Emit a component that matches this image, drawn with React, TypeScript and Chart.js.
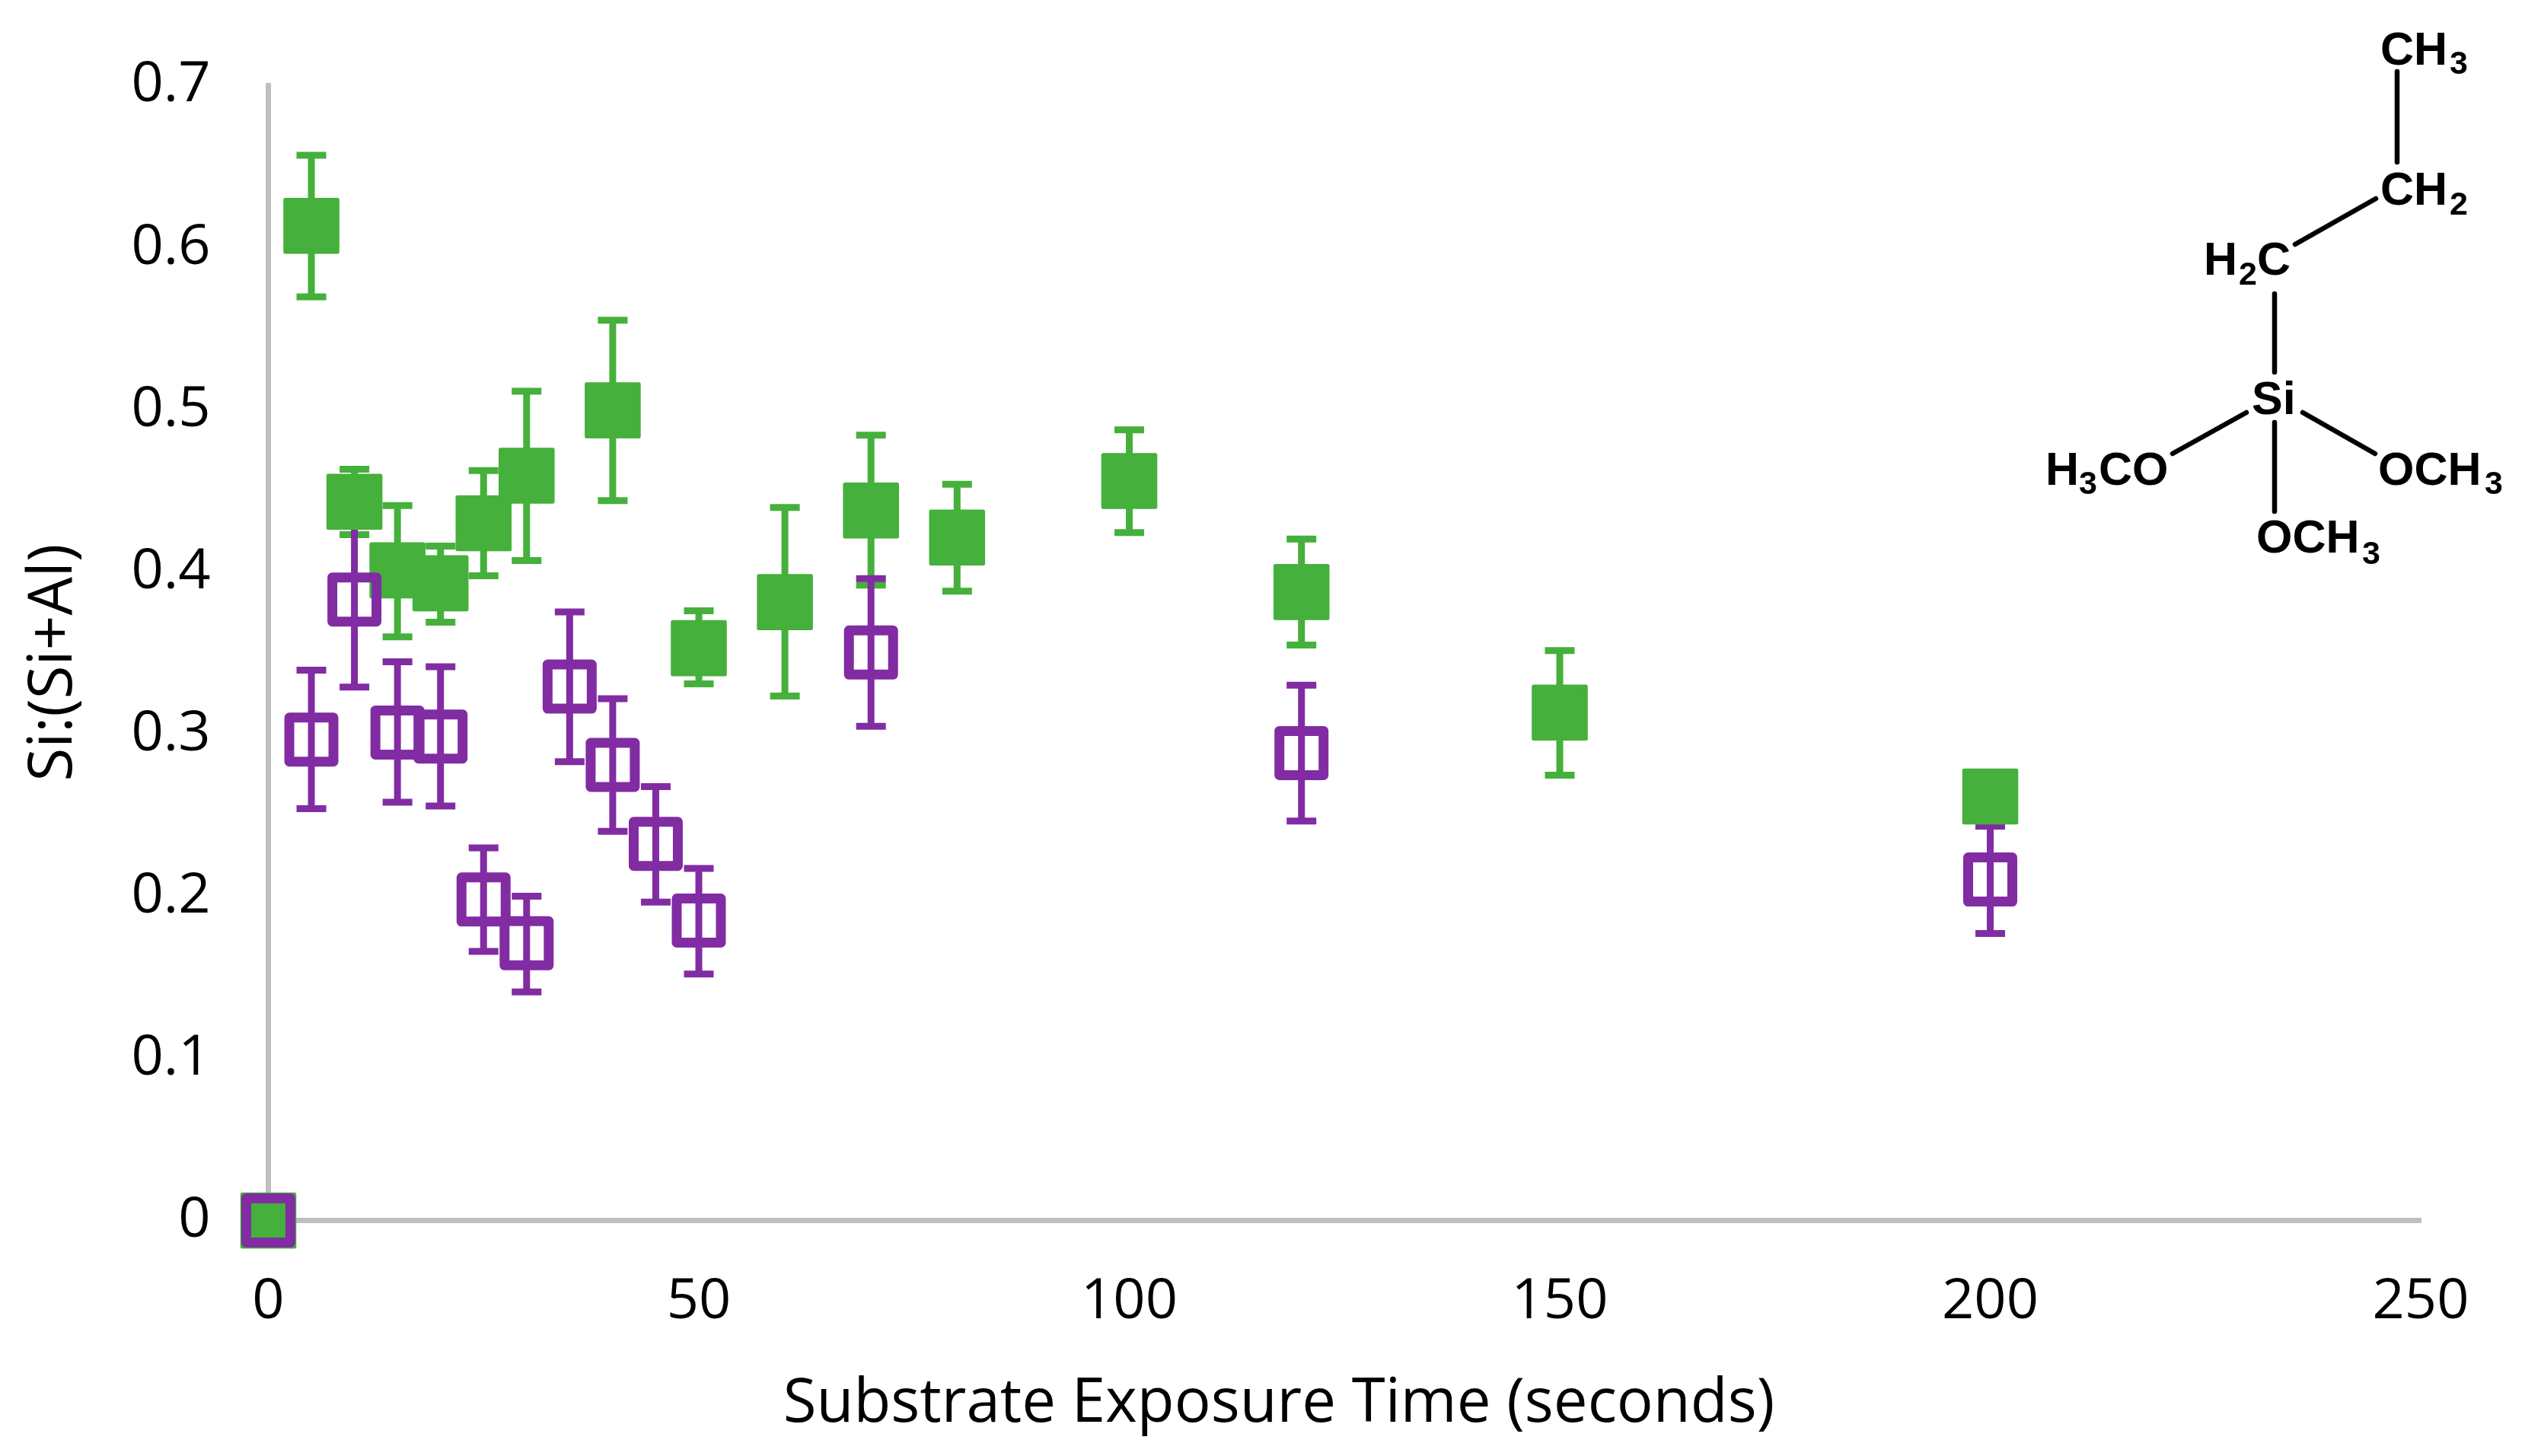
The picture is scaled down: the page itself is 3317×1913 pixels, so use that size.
import React, { useEffect, useRef } from "react";
import { Chart, registerables } from "chart.js";

Chart.register(...registerables);

const xTitle = "Substrate Exposure Time (seconds)";
const yTitle = "Si:(Si+Al)";
const xTickLabels = ["0", "50", "100", "150", "200", "250"];
const yTickLabels = ["0", "0.1", "0.2", "0.3", "0.4", "0.5", "0.6", "0.7"];

const greenTimes = [0, 5, 10, 15, 20, 25, 30, 40, 50, 60, 70, 80, 100, 120, 150, 200];
const greenRatio = [0, 0.6135, 0.4433, 0.401, 0.393, 0.43, 0.4594, 0.4997, 0.353, 0.3814, 0.4379, 0.4212, 0.4561, 0.3876, 0.3133, 0.2615];
const greenUpper = [0, 0.657, 0.4634, 0.441, 0.416, 0.4626, 0.5115, 0.5553, 0.376, 0.4398, 0.4844, 0.4541, 0.4877, 0.4203, 0.3515, 0.273];
const greenLower = [0, 0.5697, 0.423, 0.36, 0.369, 0.3976, 0.407, 0.444, 0.331, 0.3235, 0.3919, 0.3881, 0.4243, 0.3549, 0.2747, 0.25];

const purpleTimes = [0, 5, 10, 15, 20, 25, 30, 35, 40, 45, 50, 70, 120, 200];
const purpleRatio = [0, 0.2966, 0.383, 0.301, 0.2985, 0.198, 0.171, 0.3293, 0.281, 0.2323, 0.185, 0.3503, 0.2883, 0.2103];
const purpleUpper = [0, 0.3394, 0.437, 0.3446, 0.3415, 0.2298, 0.2, 0.3753, 0.3218, 0.2676, 0.2172, 0.3959, 0.3302, 0.2432];
const purpleLower = [0, 0.254, 0.329, 0.258, 0.2557, 0.166, 0.141, 0.283, 0.24, 0.1964, 0.152, 0.3048, 0.2464, 0.177];

const GREEN = "#45B03B";
const PURPLE = "#812CA3";
const AXIS = "#BFBFBF";
const TICK_FONT = "'Open Sans'";

const errorBars = [
  { color: GREEN, xs: greenTimes, hi: greenUpper, lo: greenLower },
  { color: PURPLE, xs: purpleTimes, hi: purpleUpper, lo: purpleLower },
];

const bonds = [
  [3149, 94, 3149, 213],
  [3121, 261, 3015, 321],
  [2988, 386, 2988, 489],
  [2951, 542, 2854, 596],
  [3025, 542, 3120, 596],
  [2988, 555, 2988, 672],
];
const atomText = [
  { t: "CH", x: 3127, y: 85, s: 61 },
  { t: "3", x: 3218, y: 97, s: 43 },
  { t: "CH", x: 3127, y: 269, s: 61 },
  { t: "2", x: 3218, y: 282, s: 43 },
  { t: "H", x: 2895, y: 361, s: 61 },
  { t: "2", x: 2941, y: 374, s: 43 },
  { t: "C", x: 2965, y: 361, s: 61 },
  { t: "Si", x: 2958, y: 544, s: 61 },
  { t: "H", x: 2687, y: 637, s: 61 },
  { t: "3", x: 2731, y: 649, s: 43 },
  { t: "CO", x: 2757, y: 637, s: 61 },
  { t: "OCH", x: 3124, y: 637, s: 61 },
  { t: "3", x: 3264, y: 649, s: 43 },
  { t: "OCH", x: 2964, y: 726, s: 61 },
  { t: "3", x: 3103, y: 741, s: 43 },
];

const errorBarPlugin = {
  id: "errorBars",
  beforeDatasetsDraw(chart: any) {
    const { ctx, scales } = chart;
    ctx.save();
    ctx.lineCap = "butt";
    ctx.lineWidth = 9;
    for (const s of errorBars) {
      ctx.strokeStyle = s.color;
      s.xs.forEach((xv: number, i: number) => {
        if (s.hi[i] === s.lo[i]) return;
        const x = scales.x.getPixelForValue(xv);
        const yh = scales.y.getPixelForValue(s.hi[i]);
        const yl = scales.y.getPixelForValue(s.lo[i]);
        ctx.beginPath();
        ctx.moveTo(x, yh);
        ctx.lineTo(x, yl);
        ctx.moveTo(x - 19.5, yh);
        ctx.lineTo(x + 19.5, yh);
        ctx.moveTo(x - 19.5, yl);
        ctx.lineTo(x + 19.5, yl);
        ctx.stroke();
      });
    }
    ctx.restore();
    ctx.lineJoin = "round";
  },
};

const overlayPlugin = {
  id: "overlay",
  afterDraw(chart: any) {
    const { ctx } = chart;
    ctx.save();
    ctx.fillStyle = "#000";
    ctx.textBaseline = "alphabetic";
    ctx.textAlign = "center";
    ctx.font = `79.8px 'Open Sans'`;
    ctx.fillText(xTitle, 1680, 1868);
    ctx.save();
    ctx.translate(94, 870.5);
    ctx.rotate(-Math.PI / 2);
    ctx.fillText(yTitle, 0, 0);
    ctx.restore();

    ctx.strokeStyle = "#000";
    ctx.lineWidth = 6.5;
    ctx.lineCap = "round";
    for (const [x1, y1, x2, y2] of bonds) {
      ctx.beginPath();
      ctx.moveTo(x1, y1);
      ctx.lineTo(x2, y2);
      ctx.stroke();
    }
    ctx.textAlign = "left";
    for (const a of atomText) {
      ctx.font = `bold ${a.s}px 'Liberation Sans'`;
      ctx.fillText(a.t, a.x, a.y);
    }
    ctx.restore();
  },
};

export default function App() {
  const ref = useRef<HTMLCanvasElement>(null);
  useEffect(() => {
    document.body.style.margin = "0";
    document.body.style.background = "#fff";
    const chart = new Chart(ref.current as any, {
      type: "scatter",
      data: {
        datasets: [
          {
            label: "Green",
            data: greenTimes.map((x, i) => ({ x, y: greenRatio[i] })),
            order: 2,
            clip: false,
            pointStyle: "rect",
            pointRadius: 48.5,
            pointHoverRadius: 48.5,
            pointBackgroundColor: GREEN,
            pointBorderColor: GREEN,
            pointBorderWidth: 5,
          },
          {
            label: "Purple",
            data: purpleTimes.map((x, i) => ({ x, y: purpleRatio[i] })),
            order: 1,
            clip: false,
            pointStyle: "rect",
            pointRadius: 41,
            pointHoverRadius: 41,
            pointBackgroundColor: "rgba(0,0,0,0)",
            pointBorderColor: PURPLE,
            pointBorderWidth: 13,
          },
        ],
      },
      options: {
        animation: false,
        responsive: false,
        events: [],
        layout: {
          autoPadding: false,
          padding: { left: 0, top: 112.4, right: 137, bottom: 0 },
        },
        plugins: { legend: { display: false }, tooltip: { enabled: false }, title: { display: false } },
        scales: {
          x: {
            type: "linear",
            min: 0,
            max: 250,
            afterFit(s: any) {
              s.height = 1913 - 1603.6;
              s.paddingLeft = 0;
              s.paddingRight = 0;
            },
            afterBuildTicks(s: any) {
              s.ticks = xTickLabels.map((l) => ({ value: Number(l) }));
            },
            grid: { display: false, drawTicks: false },
            border: { display: true, color: AXIS, width: 7 },
            ticks: {
              autoSkip: false,
              maxRotation: 0,
              padding: 63,
              color: "#000",
              font: { family: TICK_FONT, size: 74 },
              callback: (_v: any, i: number) => xTickLabels[i],
            },
          },
          y: {
            type: "linear",
            min: 0,
            max: 0.7,
            afterFit(s: any) {
              s.width = 352.5;
              s.paddingTop = 0;
              s.paddingBottom = 0;
            },
            afterBuildTicks(s: any) {
              s.ticks = yTickLabels.map((l) => ({ value: Number(l) }));
            },
            grid: { display: false, drawTicks: false },
            border: { display: true, color: AXIS, width: 7 },
            ticks: {
              autoSkip: false,
              padding: 76,
              color: "#000",
              font: { family: TICK_FONT, size: 74 },
              callback: (_v: any, i: number) => yTickLabels[i],
            },
          },
        },
      },
      plugins: [errorBarPlugin, overlayPlugin],
    } as any);
    return () => chart.destroy();
  }, []);
  return (
    <div style={{ position: "fixed", left: 0, top: 0, width: 3317, height: 1913, overflow: "hidden" }}>
      <canvas ref={ref} width={3317} height={1913} style={{ display: "block", width: 3317, height: 1913 }} />
    </div>
  );
}
